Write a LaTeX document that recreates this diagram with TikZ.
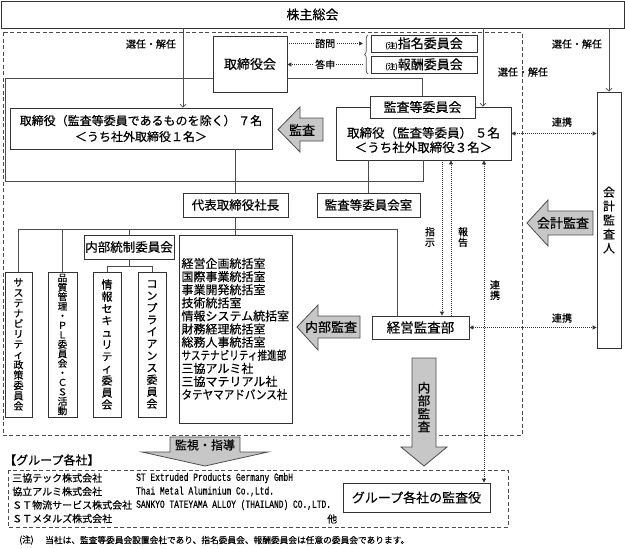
\documentclass[tikz,border=0pt]{standalone}
\usepackage{fontspec}
\usepackage{graphicx}
\setmainfont{Noto Sans CJK JP}[FakeBold=0.4]
\newfontfamily\enfont[FakeStretch=0.72,FakeBold=0.4]{Liberation Mono}
\usetikzlibrary{arrows.meta,decorations.pathreplacing}

\tikzset{
  box/.style={draw=black!80, line width=0.8pt, fill=white, inner sep=0pt, font=\fontsize{12.5}{15}\selectfont},
  vbox/.style={box, align=center, minimum height=145, font=\fontsize{10}{10.3}\selectfont},
  conn/.style={draw=black!70, line width=0.7pt},
  sel/.style={conn, -{Straight Barb[length=3pt,width=6pt]}},
  dots/.style={draw=black!80, line width=0.8pt, dash pattern=on 0.8pt off 1.2pt},
  tipa/.style={-{Triangle[length=4pt,width=4pt]}},
  tipb/.style={{Triangle[length=4pt,width=4pt]}-{Triangle[length=4pt,width=4pt]}},
  lab/.style={inner sep=1pt, font=\fontsize{10}{11}\selectfont},
  vlab/.style={lab, align=center, font=\fontsize{10}{10.5}\selectfont},
  bigarr/.style={draw=black!70, fill=black!22, line width=0.8pt},
  arrtxt/.style={inner sep=0pt, font=\fontsize{13}{13.5}\selectfont},
  frame/.style={draw=black!70, line width=0.8pt, dash pattern=on 4pt off 2.5pt},
  plain/.style={anchor=west, inner sep=0pt},
}

\begin{document}
\begin{tikzpicture}[x=1pt,y=-1pt]
    \useasboundingbox (0,0) rectangle (625,549);

    % Shareholders
    \node[box, minimum width=623, minimum height=27, font=\fontsize{13}{15}\selectfont] (shareholders) at (312.5,14.5) {株主総会};

    % Company frame
    \draw[frame] (3,32) rectangle (522,435);

    % Board and committees
    \node[box, minimum width=74, minimum height=56, font=\fontsize{13}{15}\selectfont] (board) at (250,64) {取締役会};
    \node[box, minimum width=106, minimum height=17, font=\fontsize{13}{15}\selectfont] (nomcom) at (424,43.5) {{\fontsize{7.5}{8}\selectfont (注)}指名委員会};
    \node[box, minimum width=106, minimum height=17, font=\fontsize{13}{15}\selectfont] (remcom) at (424,64.5) {{\fontsize{7.5}{8}\selectfont (注)}報酬委員会};
    \coordinate (cmt) at (363,54.5);
    \draw[conn, decorate, decoration={brace, amplitude=3.5pt}] (368,74) -- (368,35);

    \draw[dots, tipa] (board.east |- nomcom) -- node[lab, fill=white] (consult) {諮問} (cmt |- nomcom);
    \draw[dots, tipa] (cmt |- remcom) -- node[lab, fill=white] (answer) {答申} (board.east |- remcom);

    % Directors
    \node[box, minimum width=262, minimum height=41, align=center, font=\fontsize{12}{16}\selectfont] (dirs) at (141,128.5) {取締役（監査等委員であるものを除く） ７名\\＜うち社外取締役１名＞};

    \node[box, minimum width=175, minimum height=53] (acm) at (423.5,133.5) {};
    \node[align=center, inner sep=0pt, font=\fontsize{12.5}{14.5}\selectfont] (acmtxt) at (423.5,140) {取締役（監査等委員） ５名\\＜うち社外取締役３名＞};
    \node[box, minimum width=105, minimum height=22, font=\fontsize{13}{15}\selectfont] (acc) at (422.5,107) {監査等委員会};

    \draw[conn] (board.west |- 0,78) -| (5,181) -| (acm.south);
    \draw[conn] (board.east |- 0,78) -| (acc.north);

    % Auditor
    \node[box, minimum width=24, minimum height=256, align=center, font=\fontsize{12}{14}\selectfont] (auditor) at (609,220) {会\\計\\監\\査\\人};

    % Election
    \draw[sel] ([xshift=42pt]dirs.north |- shareholders.south) -- ([xshift=42pt]dirs.north);
    \node[lab] (sel1) at (151,44) {選任・解任};
    \draw[sel] ([xshift=59.5pt]acm.north |- shareholders.south) -- ([xshift=59.5pt]acm.north);
    \node[lab] (sel2) at (523,72) {選任・解任};
    \draw[sel] (auditor.north |- shareholders.south) -- (auditor.north);
    \node[lab] (sel3) at (577,44) {選任・解任};

    % President
    \node[box, minimum width=105, minimum height=24] (ceo) at (235.5,205) {代表取締役社長};
    \draw[conn] (dirs.south -| ceo) -- (ceo.north);
    \node[box, minimum width=103, minimum height=24] (acroom) at (368.5,205) {監査等委員会室};
    \draw[conn] (acm.south -| acroom) -- (acroom.north);

    % Organisation
    \coordinate (bus) at (235.5,229);
    \node[box, minimum width=90, minimum height=24, font=\fontsize{12.5}{15}\selectfont] (ics) at (129,247) {内部統制委員会};
    \node[vbox, minimum width=27] (sus) at (18.5,344.5) {サ\\ス\\テ\\ナ\\ビ\\リ\\テ\\ィ\\政\\策\\委\\員\\会};
    \node[vbox, minimum width=29, font=\fontsize{9.6}{9.5}\selectfont] (qual) at (62.5,344.5) {品\\質\\管\\理\\・\\Ｐ\\Ｌ\\委\\員\\会\\・\\Ｃ\\Ｓ\\活\\動};
    \node[vbox, minimum width=28, font=\fontsize{11}{12}\selectfont] (info) at (107,344.5) {情\\報\\セ\\キ\\ュ\\リ\\テ\\ィ\\委\\員\\会};
    \node[vbox, minimum width=28, font=\fontsize{11}{12}\selectfont] (comp) at (152,344.5) {コ\\ン\\プ\\ラ\\イ\\ア\\ン\\ス\\委\\員\\会};
    \node[box, minimum width=113, minimum height=188, align=left, text width=108, font=\fontsize{12}{13.1}\selectfont] (depts) at (235.5,329) {経営企画統括室\\国際事業統括室\\事業開発統括室\\技術統括室\\情報システム統括室\\財務経理統括室\\総務人事統括室\\\scalebox{0.8}[1]{サステナビリティ推進部}\\三協アルミ社\\三協マテリアル社\\\scalebox{0.88}[1]{タテヤマアドバンス社}};
    \node[box, minimum width=97, minimum height=23, font=\fontsize{13.5}{15}\selectfont] (auddept) at (420.5,327.5) {経営監査部};

    \draw[conn] (ceo.south) -- (depts.north);
    \draw[conn] (sus.north) |- ([xshift=-23.5pt]auddept.north |- bus) -- ([xshift=-23.5pt]auddept.north);
    \draw[conn] (qual.north) -- (qual.north |- bus);
    \draw[conn] (ics.north) -- (ics.north |- bus);
    \draw[conn] (ics.south) -- ++(0,7) coordinate (icsbus);
    \draw[conn] (info.north) |- (icsbus) -| (comp.north);

    % Instruction, report, cooperation
    \draw[dots, tipa] ([xshift=18.5pt]acm.south) -- ([xshift=18.5pt]acm.south |- auddept.north);
    \node[vlab] (instr) at (430,237) {指\\示};
    \draw[dots, tipa] ([xshift=30.5pt]auddept.north) -- ([xshift=30.5pt]auddept.north |- acm.south);
    \node[vlab] (report) at (463,237) {報\\告};
    \draw[dots, tipb] (acm.east) -- (acm.east -| auditor.west);
    \node[lab] (coop1) at (562,122) {連携};
    \draw[dots, tipb] (auddept.east) -- (auddept.east -| auditor.west);
    \node[lab] (coop2) at (562,318) {連携};

    % Audit arrows
    \draw[bigarr] (278,129.5) -- (300,107) -- (300,118) -- (323,118) -- (323,141) -- (300,141) -- (300,152) -- cycle;
    \node[arrtxt] (audit) at (302,130) {監査};
    \draw[bigarr] (297,327) -- (318,305) -- (318,316) -- (360,316) -- (360,338) -- (318,338) -- (318,350) -- cycle;
    \node[arrtxt] (intaudit) at (331,327) {内部監査};
    \draw[bigarr] (527,223) -- (548,200) -- (548,211) -- (593,211) -- (593,235) -- (548,235) -- (548,246) -- cycle;
    \node[arrtxt] (accaudit) at (563,223) {会計監査};
    \draw[bigarr] (412,358) -- (436,358) -- (436,447) -- (447,447) -- (424,466) -- (401,447) -- (412,447) -- cycle;
    \node[arrtxt, align=center, font=\fontsize{12.5}{13}\selectfont] (grpaudit) at (424,407) {内\\部\\監\\査};
    \draw[bigarr] (170,437) -- (240,437) -- (240,452) -- (268,452) -- (205,466) -- (142,452) -- (170,452) -- cycle;
    \node[arrtxt, font=\fontsize{12}{13}\selectfont] (guide) at (205,445) {監視・指導};

    % Group companies
    \draw[frame] (8,470) rectangle (508,527);
    \node[plain, font=\fontsize{12}{14}\selectfont] (grptitle) at (4,460) {【グループ各社】};
    \node[box, minimum width=147, minimum height=29, font=\fontsize{13}{15}\selectfont] (grpaud) at (416.5,497.5) {グループ各社の監査役};
    \draw[dots, tipb] ([xshift=60.5pt]acm.south) -- ([xshift=60.5pt]acm.south |- grpaud.north);
    \node[vlab] (coop3) at (495,290) {連\\携};

    \node[plain, font=\fontsize{10}{12}\selectfont] (g1) at (12,478) {三協テック株式会社};
    \node[plain, font=\fontsize{10}{12}\selectfont] (g2) at (12,491.5) {協立アルミ株式会社};
    \node[plain, font=\fontsize{10}{12}\selectfont] (g3) at (12,505) {ＳＴ物流サービス株式会社};
    \node[plain, font=\fontsize{10}{12}\selectfont] (g4) at (12,518.5) {ＳＴメタルズ株式会社};
    \node[plain, font=\enfont\fontsize{11}{12}\selectfont] (e1) at (136,478) {ST Extruded Products Germany GmbH};
    \node[plain, font=\enfont\fontsize{11}{12}\selectfont] (e2) at (136,491.5) {Thai Metal Aluminium Co.,Ltd.};
    \node[plain, font=\enfont\fontsize{11}{12}\selectfont] (e3) at (136,505) {SANKYO TATEYAMA ALLOY (THAILAND) CO.,LTD.};
    \node[plain, font=\fontsize{10}{12}\selectfont] (e4) at (327,519) {他};

    % Note
    \node[plain, font=\fontsize{8.7}{10}\selectfont] (notemark) at (19,540) {(注)};
    \node[plain, font=\fontsize{8.7}{10}\selectfont] (note) at (45,540) {当社は、監査等委員会設置会社であり、指名委員会、報酬委員会は任意の委員会であります。};
\end{tikzpicture}
\end{document}
